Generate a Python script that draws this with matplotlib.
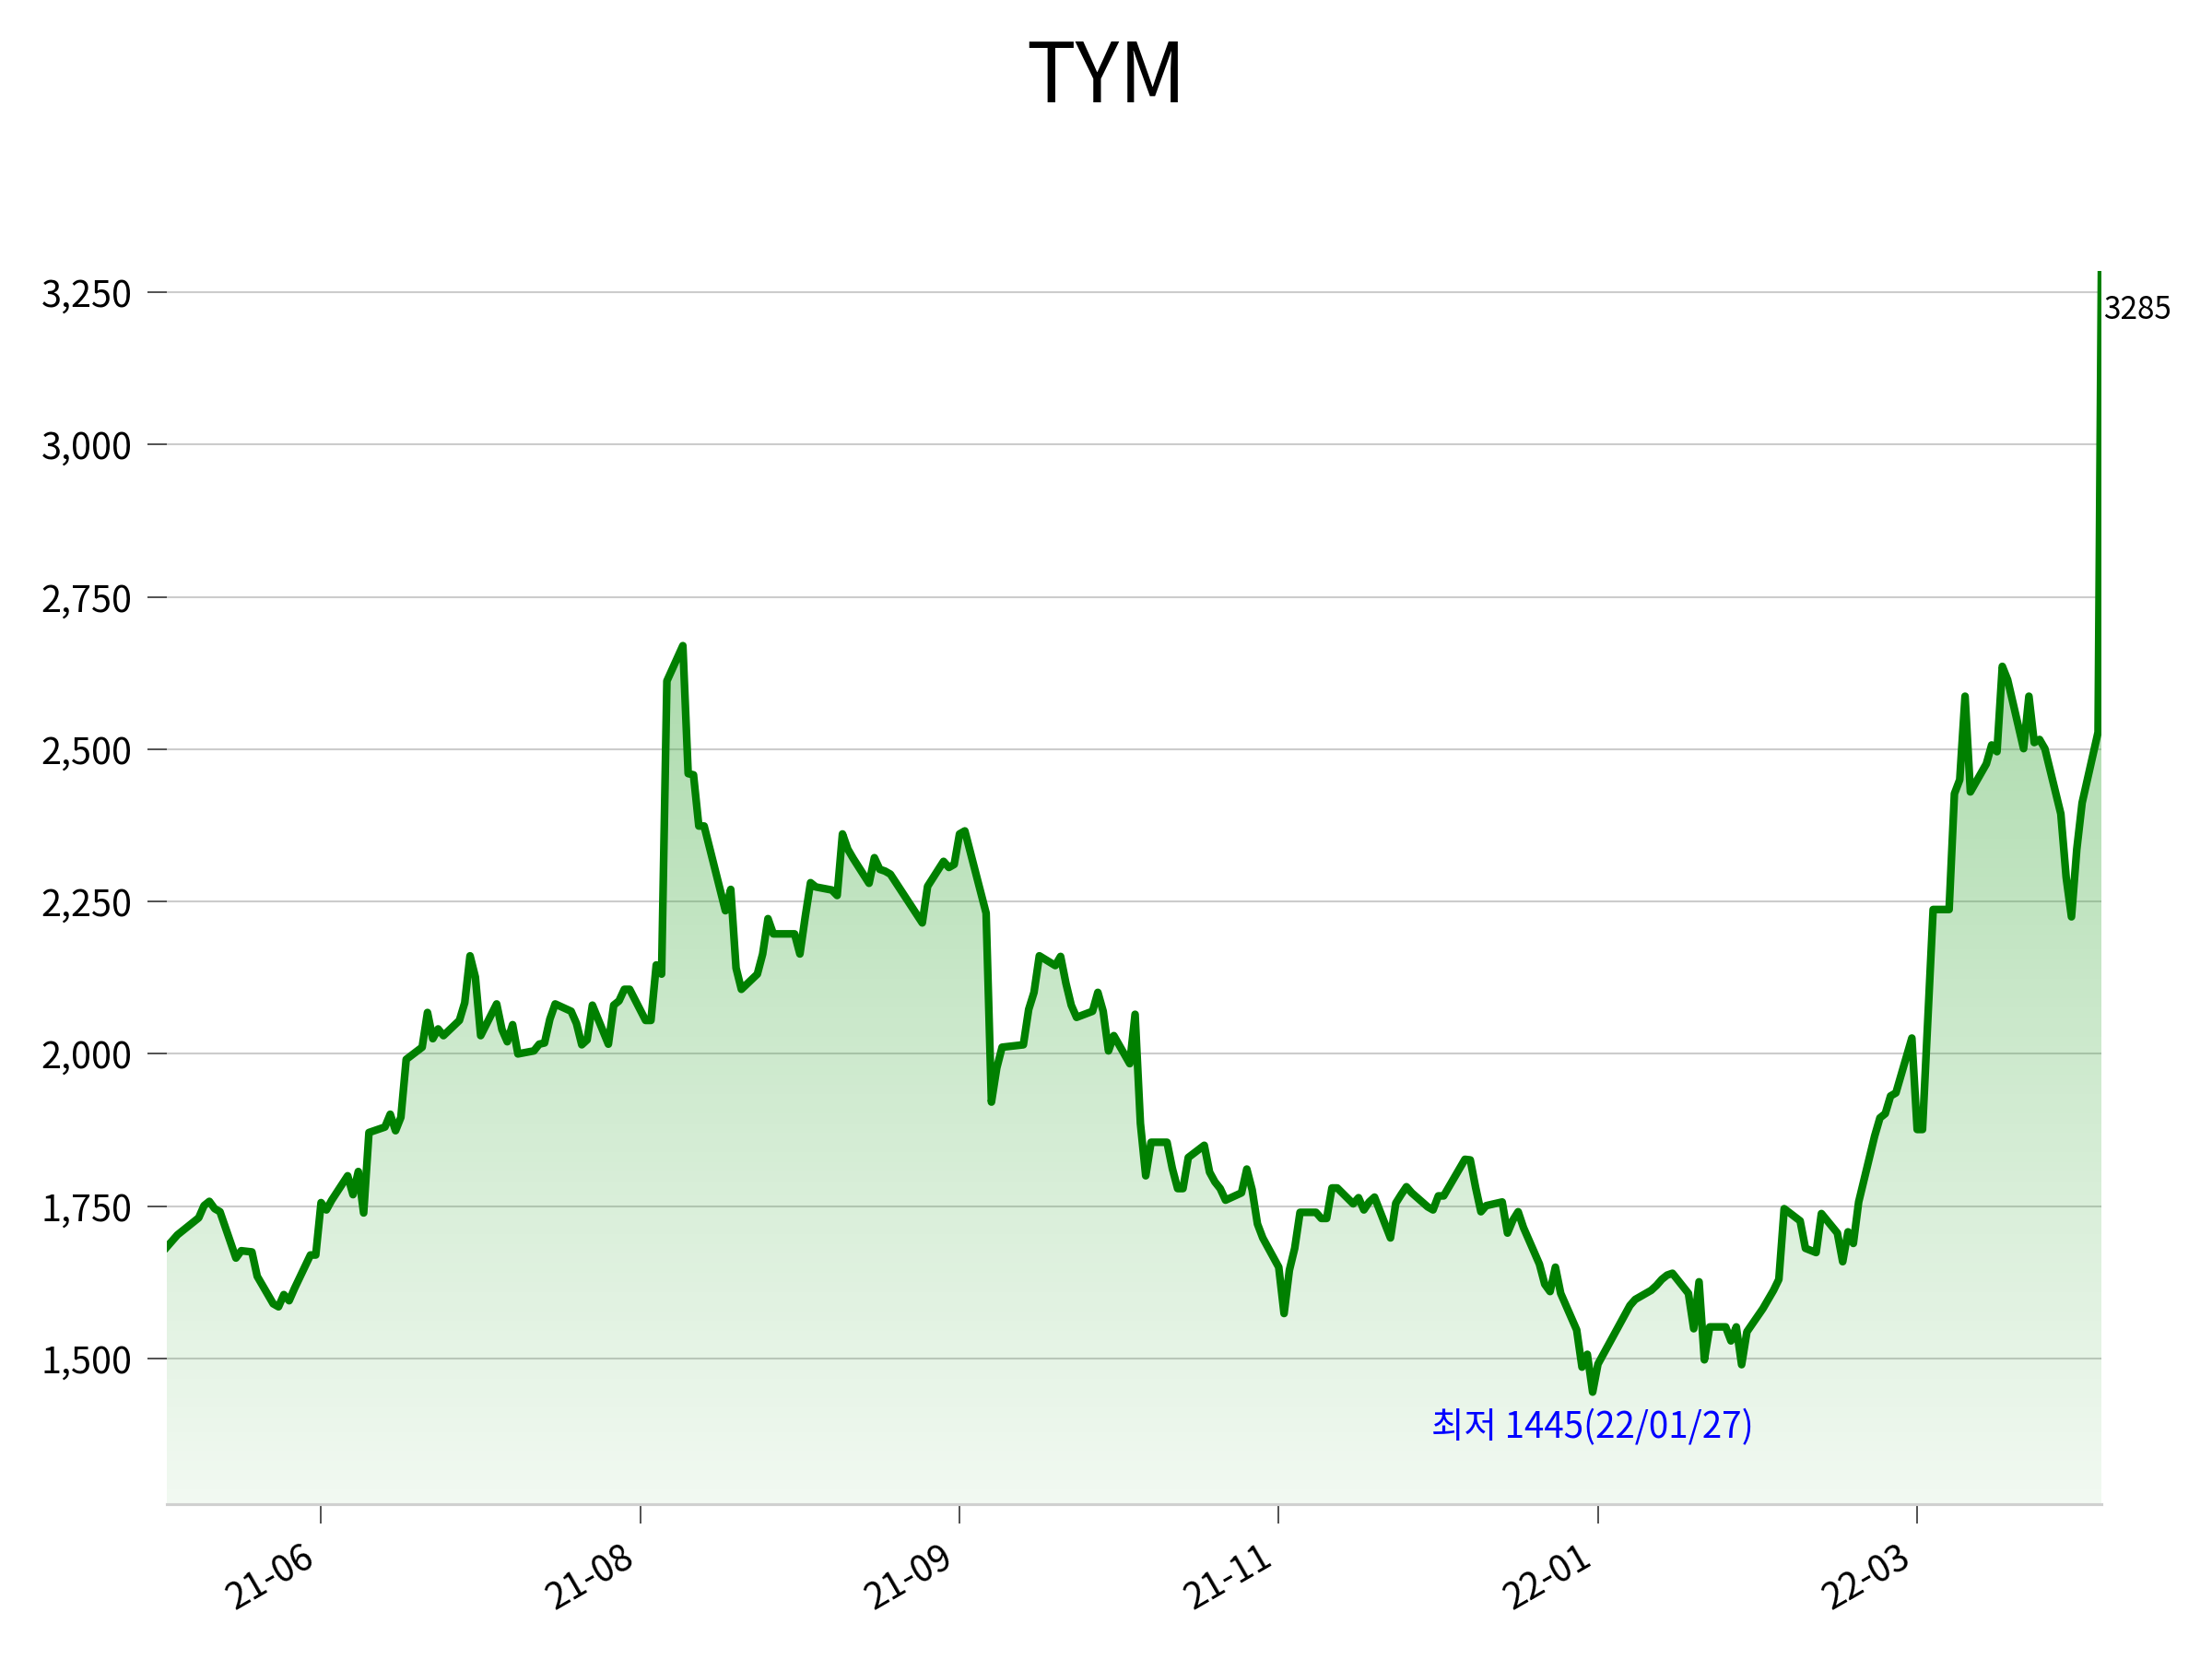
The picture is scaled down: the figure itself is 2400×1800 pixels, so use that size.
import matplotlib
matplotlib.use('Agg')
import matplotlib.pyplot as plt
import matplotlib.dates as mdates
import matplotlib.colors as mcolors
from matplotlib.patches import Polygon
from matplotlib.ticker import FuncFormatter, MultipleLocator
import numpy as np
import pandas as pd

plt.rcParams['font.family'] = ['Noto Sans CJK KR', 'DejaVu Sans']

name = 'TYM'

# KRX closed days inside the window
holidays = ['2021-05-05', '2021-05-19', '2021-08-16', '2021-09-20', '2021-09-21',
            '2021-09-22', '2021-10-04', '2021-10-11', '2021-12-31', '2022-01-31',
            '2022-02-01', '2022-02-02', '2022-03-01', '2022-03-09']

# daily close, one list per month
may21 = [1683, 1703, 1710, 1731, 1751, 1758, 1746, 1741, 1665, 1677, 1675, 1635,
         1590, 1585, 1605, 1595, 1615, 1670]
jun21 = [1670, 1756, 1744, 1760, 1800, 1769, 1807, 1739, 1871, 1880, 1901, 1874,
         1896, 1991, 2011, 2068, 2025, 2041, 2030, 2055, 2084, 2161]
jul21 = [2126, 2030, 2082, 2040, 2020, 2048, 2000, 2005, 2016, 2018, 2057, 2082,
         2070, 2050, 2015, 2023, 2080, 2016, 2080, 2087, 2106, 2106]
aug21 = [2055, 2055, 2146, 2131, 2612, 2670, 2460, 2458, 2374, 2374, 2235, 2270,
         2141, 2106, 2131, 2164, 2222, 2197, 2197, 2197, 2164]
sep21 = [2225, 2281, 2274, 2269, 2260, 2361, 2336, 2321, 2280, 2322, 2303, 2300,
         2295, 2215, 2275, 2316, 2306, 2311, 2361]
oct21 = [2366, 2231, 1921, 1977, 2011, 2015, 2073, 2101, 2161, 2145, 2160, 2116,
         2080, 2060, 2070, 2101, 2070, 2005, 2030]
nov21 = [1984, 2065, 1886, 1800, 1855, 1855, 1812, 1779, 1779, 1830, 1850, 1806,
         1790, 1779, 1760, 1772, 1811, 1777, 1721, 1698, 1650, 1574]
dec21 = [1645, 1681, 1740, 1740, 1730, 1730, 1780, 1780, 1754, 1764, 1744, 1757,
         1765, 1698, 1755, 1769, 1782, 1772, 1749, 1744, 1767, 1767]
jan22 = [1827, 1826, 1781, 1741, 1751, 1757, 1706, 1727, 1741, 1715, 1655, 1622,
         1610, 1650, 1607, 1547, 1486, 1507, 1445, 1491]
feb22 = [1587, 1597, 1612, 1620, 1630, 1637, 1640, 1607, 1549, 1626, 1498, 1552,
         1552, 1529, 1552, 1490, 1544, 1582]
mar22 = [1612, 1630, 1746, 1726, 1681, 1674, 1738, 1706, 1659, 1708, 1689, 1757,
         1865, 1895, 1902, 1931, 1936, 2026, 1876, 1876, 2058]
apr22 = [2237, 2237, 2427, 2450, 2587, 2430, 2476, 2507, 2496, 2636, 2614, 2501,
         2587, 2511, 2516, 2501, 2394, 2290, 2225, 2336, 2412]
may22 = [2528]

# current (intraday) price appended at the end
now_time = '2022-05-02 15:00'
now_price = 3285

days = pd.bdate_range('2021-05-04', '2022-05-02')
days = days[~days.isin(pd.to_datetime(holidays))]
close = may21 + jun21 + jul21 + aug21 + sep21 + oct21 + nov21 + dec21 + jan22 + feb22 + mar22 + apr22 + may22

dates = list(days.to_pydatetime()) + [pd.Timestamp(now_time).to_pydatetime()]
values = np.array(close + [now_price], dtype=float)

low_i = int(np.argmin(values))
low = values[low_i]
high = values.max()
ymin = low - (high - low) * 0.1
ymax = high

fig = plt.figure(figsize=(16, 12), dpi=150)
ax = fig.add_axes([0.0754, 0.0933, 0.8746, 0.7434])

ax.plot(dates, values, color='green', linewidth=4, zorder=3)

# vertical gradient under the line
x = mdates.date2num(dates)
grad = np.zeros((256, 1, 4))
grad[:, :, :3] = mcolors.to_rgb('#3caa3c')
grad[:, 0, 3] = np.linspace(0.58, 0.07, 256)
im = ax.imshow(grad, aspect='auto', extent=[x[0], x[-1], ymin, ymax],
               origin='upper', zorder=2)
verts = np.vstack([[x[0], ymin], np.column_stack([x, values]), [x[-1], ymin]])
clip = Polygon(verts, closed=True, facecolor='none', edgecolor='none')
ax.add_patch(clip)
im.set_clip_path(clip)

ax.set_xlim(x[0], x[-1])
ax.set_ylim(ymin, ymax)

ax.yaxis.set_major_locator(MultipleLocator(250))
ax.yaxis.set_major_formatter(FuncFormatter(lambda v, p: '{:,.0f}'.format(v)))
ax.xaxis.set_major_locator(MultipleLocator(60))
ax.xaxis.set_major_formatter(mdates.DateFormatter('%y-%m'))
plt.setp(ax.get_xticklabels(), rotation=30, ha='right')

ax.grid(True, axis='y', color='#cccccc', linewidth=1)
ax.set_axisbelow(True)
for s in ['top', 'right', 'left']:
    ax.spines[s].set_visible(False)
ax.spines['bottom'].set_color('#d0d0d0')
ax.spines['bottom'].set_linewidth(1.5)
ax.tick_params(axis='both', labelsize=19, length=10, width=0.8, color='#333333', pad=8)

ax.annotate(str(int(now_price)), xy=(x[-1], high), xytext=(1, -12),
            textcoords='offset points', fontsize=16, ha='left', va='top')
ax.text(x[low_i], low * 0.98, '최저 {}({})'.format(int(low), dates[low_i].strftime('%y/%m/%d')),
        color='blue', fontsize=18.5, ha='center', va='top')

fig.suptitle(name, fontsize=43, y=0.978)

plt.savefig('out.png', dpi=150)
